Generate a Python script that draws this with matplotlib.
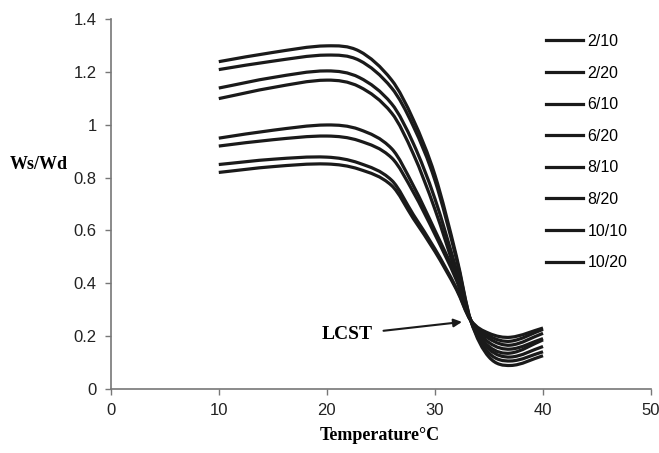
import numpy as np
import matplotlib.pyplot as plt
from matplotlib.path import Path
from matplotlib.patches import PathPatch
from matplotlib.lines import Line2D
from matplotlib.ticker import FormatStrFormatter

# temperatures (deg C) at which values were read
temps = [10, 15, 20, 23, 26, 28, 30, 32, 33.3, 35, 37, 40]

labels = ['2/10', '2/20', '6/10', '6/20', '8/10', '8/20', '10/10', '10/20']

# swelling ratio Ws/Wd
s_2_10 = [1.24, 1.275, 1.30, 1.28, 1.17, 1.02, 0.81, 0.50, 0.26, 0.12, 0.088, 0.125]
s_2_20 = [1.21, 1.242, 1.265, 1.245, 1.14, 0.995, 0.79, 0.49, 0.26, 0.135, 0.105, 0.14]
s_6_10 = [1.14, 1.18, 1.205, 1.18, 1.08, 0.93, 0.72, 0.45, 0.26, 0.15, 0.12, 0.16]
s_6_20 = [1.10, 1.142, 1.17, 1.145, 1.045, 0.89, 0.68, 0.43, 0.26, 0.16, 0.135, 0.185]
s_8_10 = [0.95, 0.98, 1.00, 0.983, 0.91, 0.77, 0.60, 0.42, 0.26, 0.175, 0.15, 0.19]
s_8_20 = [0.92, 0.944, 0.958, 0.94, 0.875, 0.745, 0.585, 0.41, 0.26, 0.19, 0.165, 0.21]
s_10_10 = [0.85, 0.87, 0.878, 0.855, 0.79, 0.66, 0.53, 0.38, 0.26, 0.20, 0.18, 0.225]
s_10_20 = [0.82, 0.842, 0.852, 0.832, 0.77, 0.645, 0.52, 0.375, 0.26, 0.21, 0.195, 0.23]

series = [s_2_10, s_2_20, s_6_10, s_6_20, s_8_10, s_8_20, s_10_10, s_10_20]


def smooth_path(x, y):
    # smoothed line as cubic Bezier segments (Hermite tangents)
    x = np.asarray(x, float)
    y = np.asarray(y, float)
    n = len(x)
    m = np.empty(n)
    m[0] = (y[1] - y[0]) / (x[1] - x[0])
    m[-1] = (y[-1] - y[-2]) / (x[-1] - x[-2])
    m[1:-1] = (y[2:] - y[:-2]) / (x[2:] - x[:-2])
    verts = [(x[0], y[0])]
    codes = [Path.MOVETO]
    for i in range(n - 1):
        h = x[i + 1] - x[i]
        verts += [(x[i] + h / 3, y[i] + m[i] * h / 3),
                  (x[i + 1] - h / 3, y[i + 1] - m[i + 1] * h / 3),
                  (x[i + 1], y[i + 1])]
        codes += [Path.CURVE4] * 3
    return Path(verts, codes)


fig = plt.figure(figsize=(6.59, 4.53), dpi=100)
ax = fig.add_axes([0.168, 0.142, 0.820, 0.815])

for s in series:
    ax.add_patch(PathPatch(smooth_path(temps, s), facecolor='none',
                           edgecolor='#1a1a1a', lw=2.3, capstyle='butt'))

ax.set_xlim(0, 50)
ax.set_ylim(0, 1.4)
ax.set_xticks([0, 10, 20, 30, 40, 50])
ax.set_yticks([0, 0.2, 0.4, 0.6, 0.8, 1.0, 1.2, 1.4])
ax.yaxis.set_major_formatter(FormatStrFormatter('%g'))

for side in ['top', 'right']:
    ax.spines[side].set_visible(False)
for side in ['left', 'bottom']:
    ax.spines[side].set_color('#777777')
    ax.spines[side].set_linewidth(1.2)
ax.tick_params(direction='out', length=4, color='#777777', width=1,
               labelsize=12, labelcolor='#222222', pad=6)
for t in ax.get_xticklabels() + ax.get_yticklabels():
    t.set_family('Liberation Sans')

fig.text(10 / 659, 1 - 164 / 453, 'Ws/Wd', family='Liberation Serif',
         weight='bold', fontsize=13, va='center', ha='left')
fig.text(380 / 659, 1 - 436 / 453, 'Temperature°C', family='Liberation Serif',
         weight='bold', fontsize=13, va='center', ha='center')

ax.annotate('LCST', xy=(32.5, 0.253), xytext=(19.5, 0.204),
            family='Liberation Serif', weight='bold', fontsize=14,
            va='center', ha='left',
            arrowprops=dict(arrowstyle='-|>', color='#1a1a1a', lw=1.5,
                            shrinkA=6, shrinkB=0, mutation_scale=12))

handles = [Line2D([], [], color='#1a1a1a', lw=2.3) for _ in labels]
leg = fig.legend(handles, labels, loc='upper left',
                 bbox_to_anchor=(546 / 659, 1 - 34 / 453), frameon=False,
                 prop={'family': 'Liberation Sans', 'size': 11.5},
                 handlelength=2.3, handletextpad=0.3, labelspacing=1.04,
                 borderpad=0, borderaxespad=0)

fig.savefig('out.png', dpi=100)
